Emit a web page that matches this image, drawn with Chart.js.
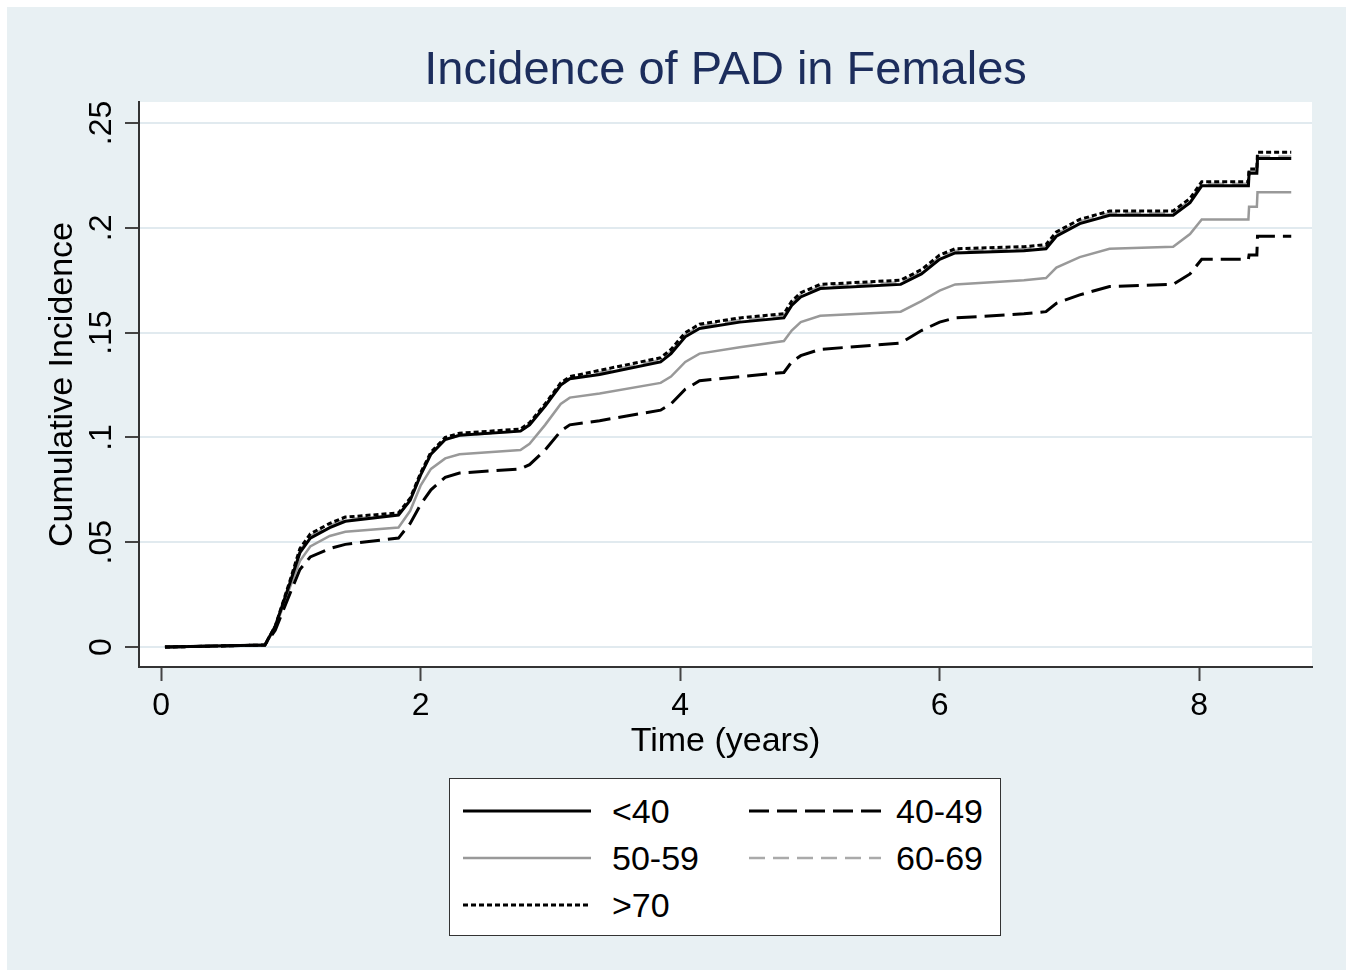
<!DOCTYPE html>
<html lang="en">
<head>
<meta charset="UTF-8">
<title>Incidence of PAD in Females</title>
<script src="https://cdn.jsdelivr.net/npm/chart.js"></script>
<style>
    body {
        margin: 0;
        width: 1350px;
        height: 977px;
        overflow: hidden;
        background: #fff;
        font-family: 'Liberation Sans', Arial, sans-serif;
    }
    #frame {
        position: absolute;
        left: 7px;
        top: 7px;
        width: 1339px;
        height: 963px;
        background: #e8f0f3;
    }
    #chart {
        position: absolute;
        left: 0;
        top: 0;
    }
    #title {
        position: absolute;
        left: 139px;
        width: 1173px;
        top: 40px;
        text-align: center;
        font-size: 47px;
        line-height: 56px;
        color: #1c2d5c;
    }
    #legend {
        position: absolute;
        left: 449px;
        top: 778px;
        width: 552px;
        height: 158px;
        background: #fff;
        border: 1.5px solid #333;
        box-sizing: border-box;
    }
    .item {
        position: absolute;
        height: 36px;
        display: flex;
        align-items: center;
        font-size: 34px;
        color: #000;
    }
</style>
</head>
<body>
<div id="frame"></div>
<canvas id="chart" width="1350" height="977"></canvas>
<div id="title">Incidence of PAD in Females</div>
<div id="legend"></div>

<script>
    // time axis shared by all groups (years)
    const times = [0.03, 0.80, 0.88, 0.99, 1.07, 1.15, 1.30, 1.42, 1.83, 1.92,
                   2.00, 2.08, 2.19, 2.30, 2.77, 2.84, 2.96, 3.08, 3.15, 3.38,
                   3.85, 3.93, 4.04, 4.15, 4.46, 4.80, 4.86, 4.93, 5.08, 5.70,
                   5.86, 6.00, 6.12, 6.65, 6.82, 6.90, 7.08, 7.31, 7.80, 7.93,
                   8.02, 8.38, 8.385, 8.445, 8.45, 8.71];

    const under40 = [0, 0.001, 0.010, 0.030, 0.045, 0.052, 0.057, 0.060, 0.063, 0.070,
                     0.082, 0.092, 0.099, 0.101, 0.103, 0.106, 0.115, 0.125, 0.128, 0.130,
                     0.136, 0.140, 0.148, 0.152, 0.155, 0.157, 0.163, 0.167, 0.171, 0.173,
                     0.178, 0.185, 0.188, 0.189, 0.190, 0.196, 0.202, 0.206, 0.206, 0.212,
                     0.220, 0.220, 0.226, 0.226, 0.233, 0.233];

    const age40to49 = [0, 0.001, 0.008, 0.025, 0.037, 0.043, 0.047, 0.049, 0.052, 0.059,
                       0.068, 0.075, 0.081, 0.083, 0.085, 0.087, 0.094, 0.103, 0.106, 0.108,
                       0.113, 0.116, 0.123, 0.127, 0.129, 0.131, 0.136, 0.139, 0.142, 0.145,
                       0.151, 0.155, 0.157, 0.159, 0.160, 0.164, 0.168, 0.172, 0.173, 0.178,
                       0.185, 0.185, 0.187, 0.187, 0.196, 0.196];

    const age50to59 = [0, 0.001, 0.009, 0.028, 0.041, 0.048, 0.053, 0.055, 0.057, 0.065,
                       0.077, 0.085, 0.090, 0.092, 0.094, 0.097, 0.106, 0.116, 0.119, 0.121,
                       0.126, 0.129, 0.136, 0.140, 0.143, 0.146, 0.151, 0.155, 0.158, 0.160,
                       0.165, 0.170, 0.173, 0.175, 0.176, 0.181, 0.186, 0.190, 0.191, 0.197,
                       0.204, 0.204, 0.210, 0.210, 0.217, 0.217];

    const age60to69 = [0, 0.001, 0.010, 0.030, 0.046, 0.053, 0.058, 0.061, 0.063, 0.070,
                       0.082, 0.092, 0.099, 0.101, 0.103, 0.106, 0.115, 0.125, 0.128, 0.131,
                       0.137, 0.141, 0.149, 0.153, 0.156, 0.158, 0.164, 0.168, 0.172, 0.174,
                       0.179, 0.186, 0.189, 0.190, 0.191, 0.197, 0.203, 0.207, 0.207, 0.213,
                       0.221, 0.221, 0.227, 0.227, 0.234, 0.234];

    const over70 = [0, 0.001, 0.010, 0.031, 0.047, 0.054, 0.059, 0.062, 0.064, 0.071,
                    0.083, 0.093, 0.100, 0.102, 0.104, 0.107, 0.116, 0.126, 0.129, 0.132,
                    0.138, 0.142, 0.150, 0.154, 0.157, 0.159, 0.165, 0.169, 0.173, 0.175,
                    0.180, 0.187, 0.190, 0.191, 0.192, 0.198, 0.204, 0.208, 0.208, 0.214,
                    0.222, 0.222, 0.228, 0.228, 0.236, 0.236];

    const groupLabels = ['<40', '40-49', '50-59', '60-69', '>70'];
    const xTicks = [0, 2, 4, 6, 8];
    const yTicks = [0, 0.05, 0.1, 0.15, 0.2, 0.25];

    const FONT = "'Liberation Sans', Arial, sans-serif";

    // line look per group, same order as groupLabels
    const styles = [
        { color: '#000000', dash: [], width: 3, order: 1 },
        { color: '#000000', dash: [20, 8], width: 3, order: 2 },
        { color: '#999999', dash: [], width: 2.5, order: 3 },
        { color: '#aaaaaa', dash: [16, 8], width: 2.5, order: 4 },
        { color: '#000000', dash: [5, 3], width: 3, order: 0 }
    ];
    const groupValues = [under40, age40to49, age50to59, age60to69, over70];

    const datasets = groupLabels.map((label, g) => ({
        label,
        data: times.map((t, i) => ({ x: t, y: groupValues[g][i] })),
        borderColor: styles[g].color,
        borderDash: styles[g].dash,
        borderWidth: styles[g].width,
        order: styles[g].order,
        pointRadius: 0,
        fill: false,
        tension: 0
    }));

    function fmtY(v) {
        return v === 0 ? '0' : String(v).replace(/^0/, '');
    }

    // white plot region
    const plotBg = {
        id: 'plotBg',
        beforeDraw(chart) {
            const a = chart.chartArea, ctx = chart.ctx;
            ctx.save();
            ctx.fillStyle = '#ffffff';
            ctx.fillRect(a.left, a.top, a.right - a.left, a.bottom - a.top);
            ctx.restore();
        }
    };

    // Stata style rotated y labels
    const yLabels = {
        id: 'yLabels',
        afterDraw(chart) {
            const s = chart.scales.y, ctx = chart.ctx;
            ctx.save();
            ctx.font = '32px ' + FONT;
            ctx.fillStyle = '#000';
            ctx.textAlign = 'center';
            ctx.textBaseline = 'alphabetic';
            yTicks.forEach(v => {
                ctx.save();
                ctx.translate(s.right - 28, s.getPixelForValue(v));
                ctx.rotate(-Math.PI / 2);
                ctx.fillText(fmtY(v), 0, 0);
                ctx.restore();
            });
            ctx.restore();
        }
    };

    new Chart(document.getElementById('chart'), {
        type: 'line',
        data: { datasets },
        plugins: [plotBg, yLabels],
        options: {
            responsive: false,
            animation: false,
            devicePixelRatio: 1,
            layout: { padding: { left: 0, right: 38, top: 102, bottom: 210 } },
            plugins: {
                legend: { display: false },
                tooltip: { enabled: false },
                title: { display: false }
            },
            scales: {
                x: {
                    type: 'linear',
                    min: -0.17,
                    max: 8.87,
                    afterBuildTicks: axis => { axis.ticks = xTicks.map(v => ({ value: v })); },
                    afterFit: s => { s.height = 100; },
                    ticks: {
                        font: { family: FONT, size: 32 },
                        color: '#000',
                        padding: 6,
                        maxRotation: 0
                    },
                    grid: {
                        drawOnChartArea: false,
                        tickLength: 14,
                        tickColor: '#444',
                        tickWidth: 2
                    },
                    border: { color: '#333', width: 2 },
                    title: {
                        display: true,
                        text: 'Time (years)',
                        font: { family: FONT, size: 34 },
                        color: '#000',
                        padding: { top: 0, bottom: 5 }
                    }
                },
                y: {
                    type: 'linear',
                    min: -0.0095,
                    max: 0.26,
                    afterBuildTicks: axis => { axis.ticks = yTicks.map(v => ({ value: v })); },
                    afterFit: s => { s.width = 139; },
                    ticks: {
                        font: { family: FONT, size: 32 },
                        color: 'rgba(0,0,0,0)',
                        callback: v => fmtY(v)
                    },
                    grid: {
                        color: '#e1eaef',
                        lineWidth: 2,
                        tickLength: 14,
                        tickColor: '#444',
                        tickWidth: 2
                    },
                    border: { color: '#333', width: 2 },
                    title: {
                        display: true,
                        text: 'Cumulative Incidence',
                        font: { family: FONT, size: 34 },
                        color: '#000',
                        padding: { top: 42, bottom: 0 }
                    }
                }
            }
        }
    });

    // legend box (two columns, Stata layout)
    const legendPos = [
        { left: 13, top: 14, w: 128, gap: 21 },
        { left: 299, top: 14, w: 132, gap: 15 },
        { left: 13, top: 61, w: 128, gap: 21 },
        { left: 299, top: 61, w: 132, gap: 15 },
        { left: 13, top: 108, w: 128, gap: 21 }
    ];
    const legend = document.getElementById('legend');
    groupLabels.forEach((label, g) => {
        const p = legendPos[g], st = styles[g];
        const div = document.createElement('div');
        div.className = 'item';
        div.style.left = p.left + 'px';
        div.style.top = p.top + 'px';
        div.innerHTML =
            `<svg width="${p.w}" height="36" style="margin-right:${p.gap}px"><line x1="0" y1="18" x2="${p.w}" y2="18"
              stroke="${st.color}" stroke-width="${st.width}" stroke-dasharray="${st.dash.join(' ')}"/></svg><span></span>`;
        div.querySelector('span').textContent = label;
        legend.appendChild(div);
    });
</script>
</body>
</html>
